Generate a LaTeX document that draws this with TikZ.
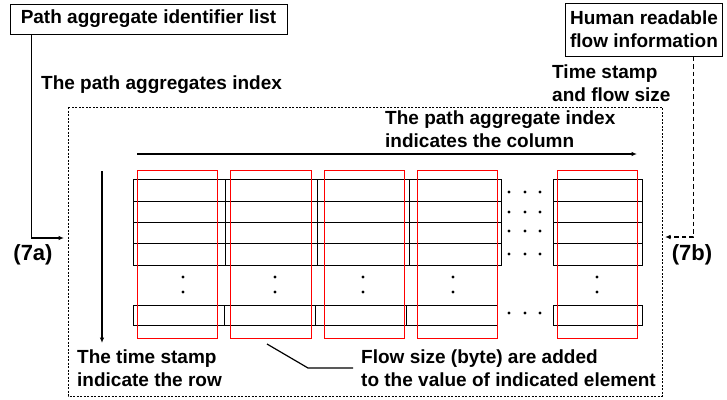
\documentclass[tikz,border=0pt]{standalone}
\usepackage{fontspec}
\setmainfont{Liberation Sans}
\usetikzlibrary{arrows.meta}
\begin{document}
\begin{tikzpicture}[x=1pt,y=-1pt,
  lbl/.style={font=\fontsize{19}{23}\selectfont\bfseries, inner sep=0pt, align=left},
  biglbl/.style={font=\fontsize{22}{26}\selectfont\bfseries, inner sep=0pt},
  boxed/.style={lbl, draw, line width=1pt},
  arr/.style={line width=1.1pt, -{Latex[length=5.5pt,width=4.5pt]}},
  dasharr/.style={line width=1.3pt, dash pattern=on 4.5pt off 3pt, -{Latex[length=5.5pt,width=4.5pt]}},
  framebox/.style={line width=0.9pt, dash pattern=on 2pt off 1.5pt},
  cell/.style={line width=1pt, draw=black},
  redbox/.style={line width=1pt, draw=red},
  dotmark/.style={fill=black}
]
\useasboundingbox (0,0) rectangle (727,399);
% title boxes
\node[boxed, minimum width=277pt, minimum height=30pt, align=center] (pal) at (148.5,19) {Path aggregate identifier list};
\node[boxed, minimum width=156pt, minimum height=53pt, inner xsep=5pt] (hr) at (644,29.5) {Human readable\\flow information};

% frame
\draw[framebox] (68,107) rectangle (662,396);

% labels
\node[lbl, anchor=west] (lpai) at (41,85) {The path aggregates index};
\node[lbl, anchor=west] (lts) at (552,83.5) {Time stamp\\and flow size};
\node[lbl, anchor=west] (lcol) at (385,129) {The path aggregate index\\indicates the column};
\node[lbl, anchor=west] (lrow) at (77,368.5) {The time stamp\\indicate the row};
\node[lbl, anchor=west] (lflow) at (361,368.5) {Flow size (byte) are added\\to the value of indicated element};
\node[biglbl] (l7a) at (33,255) {(7a)};
\node[biglbl] (l7b) at (692,255) {(7b)};

% connectors 7a / 7b
\coordinate (t7a) at (64,238);
\coordinate (t7b) at (665,237);
\draw[arr] ([xshift=22pt]pal.south west) |- (t7a);
\draw[dasharr] ([xshift=-30pt]hr.south east) |- (t7b);

% index arrows
\coordinate (ha1) at (137,154);
\coordinate (ha2) at (637,154);
\coordinate (va1) at (102,171);
\coordinate (va2) at (102,343);
\draw[arr] (ha1) -- (ha2);
\draw[arr] (va1) -- (va2);

% grid columns (top blocks)
\foreach \xa/\xb in {133/225,225/317,317/409,409/501,553/642}{
  \draw[cell] (\xa,179) rectangle (\xb,265);
  \draw[cell] (\xa,201) -- (\xb,201);
  \draw[cell] (\xa,222) -- (\xb,222);
  \draw[cell] (\xa,243) -- (\xb,243);
}
% bottom row
\foreach \xa/\xb in {133/224,224/315,315/406,406/497,553/642}{
  \draw[cell] (\xa,305) rectangle (\xb,325);
}
% red column boxes
\foreach \xa/\xb in {137/217,230/311,324/404,417/497,557/637}{
  \draw[redbox] (\xa,170) rectangle (\xb,338);
}
% vertical dots
\foreach \x in {183,275,363,453,597}{
  \fill[dotmark] (\x,277) circle (1.6);
  \fill[dotmark] (\x,292) circle (1.6);
}
% horizontal dots
\foreach \y in {192,212,231,254,313}{
  \foreach \x in {509,525,540}{
    \fill[dotmark] (\x,\y) circle (1.6);
  }
}

% leader line
\coordinate (ld1) at (267,344);
\coordinate (ld2) at (308,368);
\coordinate (ld3) at (353,368);
\draw[line width=1.2pt] (ld1) -- (ld2) -- (ld3);
\end{tikzpicture}
\end{document}
